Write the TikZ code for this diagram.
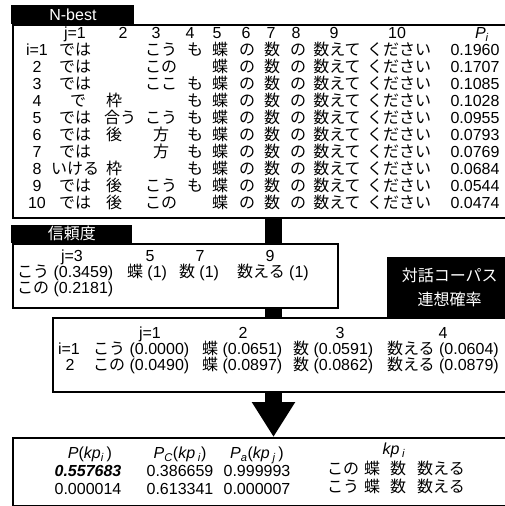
\documentclass[tikz,border=0pt]{standalone}
\usepackage{fontspec}
\setmainfont{Liberation Sans}
\newfontfamily\jpfont{Noto Sans CJK JP}
\newcommand\JP[1]{{\jpfont #1}}
\usetikzlibrary{arrows.meta,backgrounds}
\newcommand\nrow[8]{%
  \node[t] (ri#1) at (37,#3) {#2};
  \node[t] (ra#1) at (75,#3) {\JP{#4}};
  \ifx\relax#5\relax\else\node[t] (rb#1) at (114,#3) {\JP{#5}};\fi
  \ifx\relax#6\relax\else\node[t] (rc#1) at (161,#3) {\JP{#6}};\fi
  \ifx\relax#7\relax\else\node[t] (rd#1) at (195,#3) {\JP{#7}};\fi
  \node[t] (re#1) at (220,#3) {\JP{蝶}};
  \node[t] (rf#1) at (247,#3) {\JP{の}};
  \node[t] (rg#1) at (272,#3) {\JP{数}};
  \node[t] (rh#1) at (298,#3) {\JP{の}};
  \node[t] (rk#1) at (337,#3) {\JP{数えて}};
  \node[t] (rl#1) at (399,#3) {\JP{ください}};
  \node[t] (rp#1) at (475,#3) {#8};
}
\begin{document}
\begin{tikzpicture}[x=1pt,y=-1pt,
  box/.style={draw=black,line width=1.6pt,fill=white,inner sep=0pt},
  hdr/.style={fill=black,draw=none,inner sep=0pt,text=white,font=\fontsize{16}{24}\selectfont},
  t/.style={inner sep=0pt,text height=11.5pt,text depth=0pt,font=\fontsize{16}{17}\selectfont},
  tw/.style={t,anchor=west},
  bararrow/.style={line width=17pt,-{Triangle[width=41pt,length=35pt]}}]
\useasboundingbox (0,0) rectangle (505,506);
\clip (0,0) rectangle (505,506);
\coordinate (barx) at (273.5,0);

% boxes
\node[box,anchor=north west,minimum width=500pt,minimum height=193pt] (nbest) at (12,24) {};
\node[hdr,anchor=south west,minimum width=123pt,minimum height=19pt] (nbesth) at (11.2,24) {N-best};
\node[box,anchor=north west,minimum width=325pt,minimum height=64pt] (conf) at (12,243) {};
\node[hdr,anchor=south west,minimum width=121pt,minimum height=18pt] (confh) at (11.2,243) {\JP{信頼度}};
\node[box,anchor=north west,minimum width=460pt,minimum height=74pt] (assoc) at (52,317) {};
\node[hdr,anchor=south west,minimum width=125pt,minimum height=60pt,align=center] (assoch) at (387,317.5) {\JP{対話コーパス}\\\JP{連想確率}};
\node[box,anchor=north west,minimum width=500pt,minimum height=68pt] (final) at (12,437) {};

% flow arrow behind the boxes
\begin{scope}[on background layer]
  \draw[bararrow] (nbest.south -| barx) -- (final.north -| barx);
\end{scope}

% N-best table
\node[t] (hj1) at (75,33) {j=1};
\node[t] (hj2) at (123,33) {2};
\node[t] (hj3) at (156,33) {3};
\node[t] (hj4) at (190,33) {4};
\node[t] (hj5) at (217,33) {5};
\node[t] (hj6) at (246,33) {6};
\node[t] (hj7) at (271,33) {7};
\node[t] (hj8) at (296,33) {8};
\node[t] (hj9) at (334,33) {9};
\node[t] (hj10) at (397,33) {10};
\node[t] (hjp) at (482,33) {\textit{P}\textsubscript{\textit{i}}};
\nrow{1}{i=1}{50}{では}{}{こう}{も}{0.1960}
\nrow{2}{2}{67}{では}{}{この}{}{0.1707}
\nrow{3}{3}{84}{では}{}{ここ}{も}{0.1085}
\nrow{4}{4}{101}{\kern6pt で}{枠}{}{も}{0.1028}
\nrow{5}{5}{118}{では}{\kern12pt 合う}{こう}{も}{0.0955}
\nrow{6}{6}{135}{では}{後}{方}{も}{0.0793}
\nrow{7}{7}{152}{では}{}{方}{も}{0.0769}
\nrow{8}{8}{169}{いける}{枠}{}{も}{0.0684}
\nrow{9}{9}{186}{では}{後}{こう}{も}{0.0544}
\nrow{10}{10}{203}{では}{後}{この}{}{0.0474}

% confidence
\node[t] (cj3) at (72,256) {j=3};
\node[t] (cj5) at (150,256) {5};
\node[t] (cj7) at (200,256) {7};
\node[t] (cj9) at (270,256) {9};
\node[tw] (c31) at (17,272) {\JP{こう} (0.3459)};
\node[tw] (c32) at (17,288) {\JP{この} (0.2181)};
\node[t] (c5) at (147,272) {\JP{蝶} (1)};
\node[t] (c7) at (199,272) {\JP{数} (1)};
\node[t] (c9) at (273,272) {\JP{数える} (1)};

% association
\node[t] (aj1) at (150,333) {j=1};
\node[t] (aj2) at (243,333) {2};
\node[t] (aj3) at (340,333) {3};
\node[t] (aj4) at (443,333) {4};
\node[t] (ai1) at (69,349) {i=1};
\node[t] (ai2) at (70,365) {2};
\node[tw] (a11) at (93,349) {\JP{こう} (0.0000)};
\node[tw] (a12) at (202,349) {\JP{蝶} (0.0651)};
\node[tw] (a13) at (293,349) {\JP{数} (0.0591)};
\node[tw] (a14) at (387,349) {\JP{数える} (0.0604)};
\node[tw] (a21) at (93,365) {\JP{この} (0.0490)};
\node[tw] (a22) at (202,365) {\JP{蝶} (0.0897)};
\node[tw] (a23) at (293,365) {\JP{数} (0.0862)};
\node[tw] (a24) at (387,365) {\JP{数える} (0.0879)};

% result
\node[t] (f11) at (90,453) {\textit{P}(\textit{kp}\textsubscript{\textit{i}}\,)};
\node[t] (f12) at (180,453) {\textit{P}\textsubscript{\textit{C}}(\textit{kp}\,\textsubscript{\textit{i}})};
\node[t] (f13) at (257,453) {\textit{P}\textsubscript{\textit{a}}(\textit{kp}\,\textsubscript{\textit{j}}\,)};
\node[t] (f14) at (394,449) {\textit{kp}\,\textsubscript{\textit{i}}};
\node[t] (f21) at (88,471) {\textbf{\textit{0.557683}}};
\node[t] (f22) at (180,471) {0.386659};
\node[t] (f23) at (257,471) {0.999993};
\node[t] (f31) at (88,489) {0.000014};
\node[t] (f32) at (180,489) {0.613341};
\node[t] (f33) at (257,489) {0.000007};
\node[t] (k21) at (343,469) {\JP{この}};
\node[t] (k22) at (372,469) {\JP{蝶}};
\node[t] (k23) at (398,469) {\JP{数}};
\node[t] (k24) at (441,469) {\JP{数える}};
\node[t] (k31) at (343,487) {\JP{こう}};
\node[t] (k32) at (372,487) {\JP{蝶}};
\node[t] (k33) at (398,487) {\JP{数}};
\node[t] (k34) at (441,487) {\JP{数える}};
\end{tikzpicture}
\end{document}
